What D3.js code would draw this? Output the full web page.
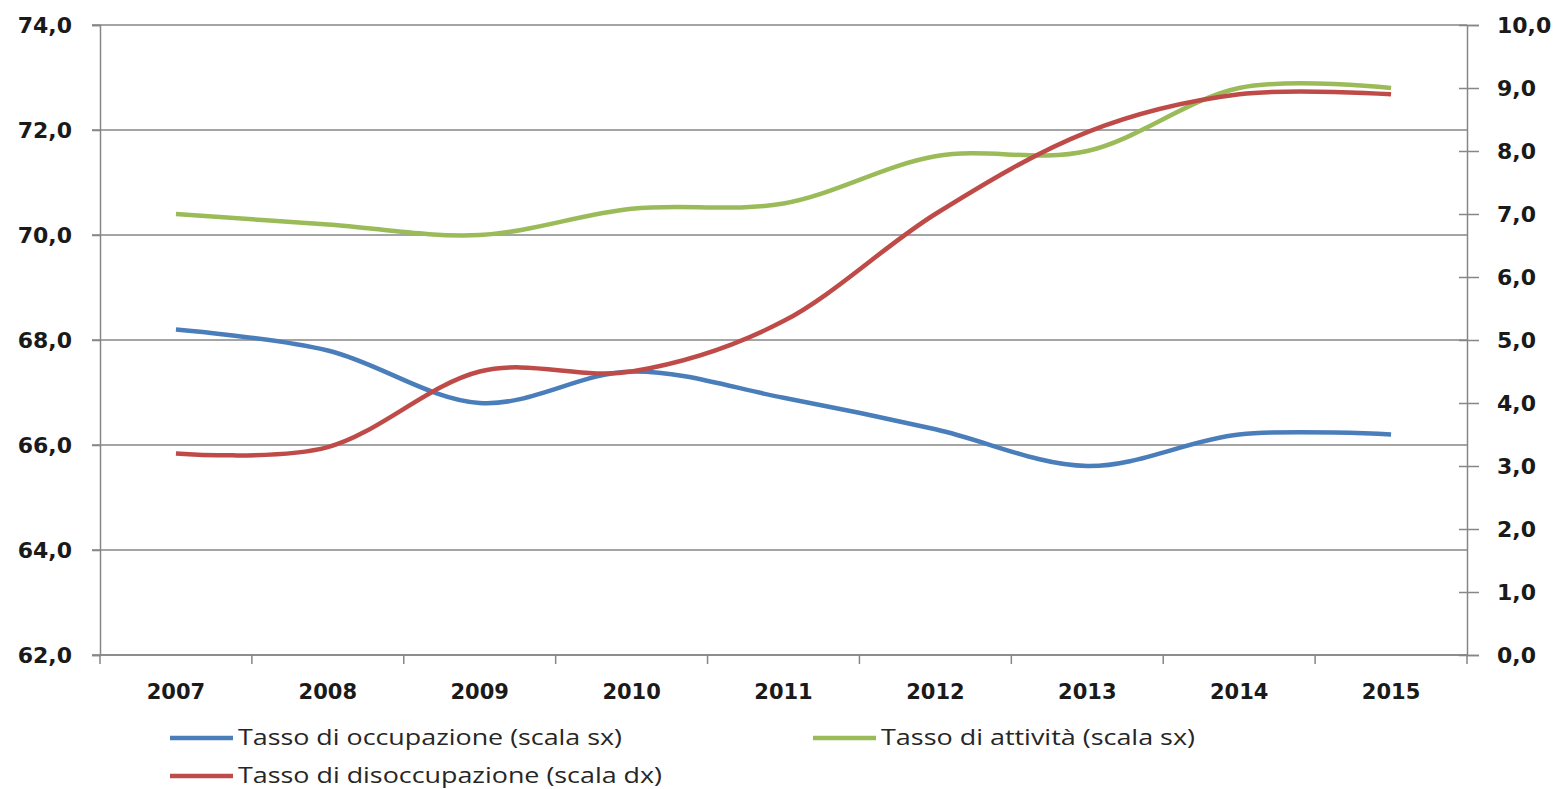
<!DOCTYPE html>
<html>
<head>
<meta charset="utf-8">
<script src="https://cdn.jsdelivr.net/npm/d3@7"></script>
<style>
  html, body { margin: 0; padding: 0; background: #ffffff; }
  svg { display: block; }
</style>
</head>
<body>
<svg id="chart" width="1555" height="789"></svg>
<script>
// Years on the category axis
const years = ["2007", "2008", "2009", "2010", "2011", "2012", "2013", "2014", "2015"];

// Left scale (%): employment and activity rates
const occupazione = [68.2, 67.8, 66.8, 67.4, 66.9, 66.3, 65.6, 66.2, 66.2];
const attivita    = [70.4, 70.2, 70.0, 70.5, 70.6, 71.5, 71.6, 72.8, 72.8];
// Right scale (%): unemployment rate
const disoccupazione = [3.2, 3.3, 4.5, 4.5, 5.3, 7.0, 8.3, 8.9, 8.9];

// Axis ticks
const leftTicks  = [62, 64, 66, 68, 70, 72, 74];
const rightTicks = [0, 1, 2, 3, 4, 5, 6, 7, 8, 9, 10];

const seriesNames = [
  "Tasso di occupazione (scala sx)",
  "Tasso di attività (scala sx)",
  "Tasso di disoccupazione (scala dx)"
];

const colors = { occ: "#4a7ebb", att: "#9bbb59", dis: "#be4b48" };
const axisColor = "#868686";
const fmt = d => d3.format(".1f")(d).replace(".", ",");

const svg = d3.select("#chart");
const plot = { left: 100, right: 1467, top: 25, bottom: 655 };

const x = d3.scaleBand().domain(years).range([plot.left, plot.right]);
const yL = d3.scaleLinear().domain([62, 74]).range([plot.bottom, plot.top]);
const yR = d3.scaleLinear().domain([0, 10]).range([plot.bottom, plot.top]);

// Horizontal gridlines at left-scale ticks
svg.append("g")
  .selectAll("line")
  .data(leftTicks)
  .join("line")
  .attr("x1", plot.left - 8).attr("x2", plot.right)
  .attr("y1", d => yL(d)).attr("y2", d => yL(d))
  .attr("stroke", axisColor).attr("stroke-width", 1.5);

// Left axis
const gL = svg.append("g")
  .attr("transform", `translate(${plot.left},0)`)
  .call(d3.axisLeft(yL).tickValues(leftTicks).tickFormat(fmt).tickSize(8).tickPadding(20));

// Right axis
const gR = svg.append("g")
  .attr("transform", `translate(${plot.right},0)`)
  .call(d3.axisRight(yR).tickValues(rightTicks).tickFormat(fmt).tickSize(12).tickPadding(18));

// Bottom axis: tick marks on category boundaries, labels at band centres
const gB = svg.append("g")
  .attr("transform", `translate(0,${plot.bottom})`)
  .call(d3.axisBottom(x).tickSize(0).tickPadding(29));

const boundaries = years.map(y => x(y)).concat([plot.right]);
gB.selectAll(".bound")
  .data(boundaries)
  .join("line")
  .attr("class", "bound")
  .attr("x1", d => d).attr("x2", d => d)
  .attr("y1", 0).attr("y2", 9)
  .attr("stroke", axisColor).attr("stroke-width", 1.5);

[gL, gR, gB].forEach(g => {
  g.select(".domain").attr("stroke", axisColor).attr("stroke-width", 1.5);
  g.selectAll(".tick line").attr("stroke", axisColor).attr("stroke-width", 1.5);
  g.selectAll(".tick text")
    .attr("fill", "#1a1a1a")
    .style("font-family", "'DejaVu Sans', Verdana, sans-serif")
    .style("font-weight", "bold")
    .style("font-size", "22px");
});
gB.selectAll(".tick text").style("font-size", "21px");
gB.select(".domain").attr("d", `M${plot.left},0H${plot.right}`);
// Right-axis ticks cross the axis line
gR.selectAll(".tick line").attr("x1", -8);

// Smoothed lines
const lineL = d3.line()
  .x((d, i) => x(years[i]) + x.bandwidth() / 2)
  .y(d => yL(d))
  .curve(d3.curveCatmullRom.alpha(0));
const lineR = d3.line()
  .x((d, i) => x(years[i]) + x.bandwidth() / 2)
  .y(d => yR(d))
  .curve(d3.curveCatmullRom.alpha(0));

const lines = svg.append("g")
  .attr("fill", "none")
  .attr("stroke-width", 4.5)
  .attr("stroke-linejoin", "round");

lines.append("path").attr("d", lineL(occupazione)).attr("stroke", colors.occ);
lines.append("path").attr("d", lineL(attivita)).attr("stroke", colors.att);
lines.append("path").attr("d", lineR(disoccupazione)).attr("stroke", colors.dis);

// Legend
const legendItems = [
  { name: seriesNames[0], color: colors.occ, lx: 170, ly: 738, len: 384 },
  { name: seriesNames[1], color: colors.att, lx: 813, ly: 738, len: 314 },
  { name: seriesNames[2], color: colors.dis, lx: 170, ly: 776, len: 424 }
];
const legend = svg.append("g");
const items = legend.selectAll("g").data(legendItems).join("g")
  .attr("transform", d => `translate(${d.lx},${d.ly})`);
items.append("line")
  .attr("x1", 0).attr("x2", 63).attr("y1", 0).attr("y2", 0)
  .attr("stroke", d => d.color).attr("stroke-width", 4.5);
items.append("text")
  .attr("x", 68).attr("y", 7)
  .attr("fill", "#262626")
  .style("font-family", "'Open Sans', 'Noto Sans', sans-serif")
  .style("font-size", "22px")
  .attr("textLength", d => d.len)
  .attr("lengthAdjust", "spacingAndGlyphs")
  .text(d => d.name);
</script>
</body>
</html>
